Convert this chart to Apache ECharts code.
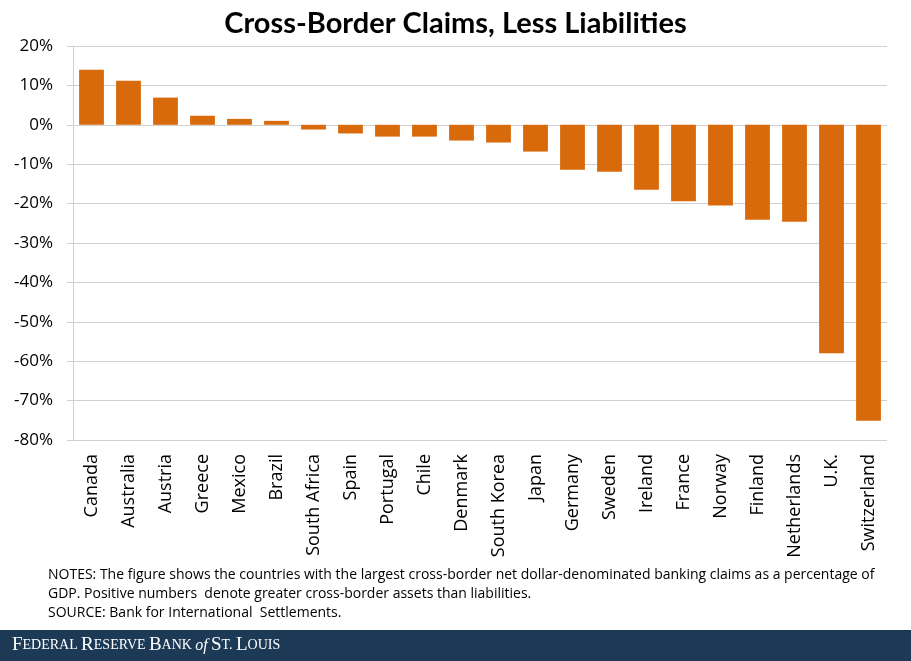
<!DOCTYPE html>
<html>
<head>
<meta charset="utf-8">
<script src="https://cdn.jsdelivr.net/npm/echarts@6/dist/echarts.min.js"></script>
<style>
  html, body { margin: 0; padding: 0; background: #fff; }
  #chart { width: 911px; height: 661px; }
</style>
</head>
<body>
<div id="chart"></div>
<script>
// countries and net claims (% of GDP)
const countries = ['Canada', 'Australia', 'Austria', 'Greece', 'Mexico', 'Brazil', 'South Africa',
  'Spain', 'Portugal', 'Chile', 'Denmark', 'South Korea', 'Japan', 'Germany', 'Sweden',
  'Ireland', 'France', 'Norway', 'Finland', 'Netherlands', 'U.K.', 'Switzerland']
const netClaims = [14.0, 11.2, 6.9, 2.3, 1.5, 1.0, -1.2, -2.2, -3.0, -3.0, -4.0, -4.5, -6.8,
  -11.4, -11.9, -16.5, -19.4, -20.5, -24.1, -24.6, -58.0, -75.1]
const yTicks = { min: -80, max: 20, step: 10 }

const notes = [
  'NOTES: The figure shows the countries with the largest cross-border net dollar-denominated banking claims as a percentage of',
  'GDP. Positive numbers  denote greater cross-border assets than liabilities.',
  'SOURCE: Bank for International  Settlements.'
]

const font = '"Open Sans", "Noto Sans", sans-serif'
let chart = echarts.init(document.getElementById('chart'))

chart.setOption({
  backgroundColor: '#fff',
  animation: false,
  title: {
    text: 'Cross-Border Claims, Less Liabilities',
    left: 'center',
    top: 4,
    textStyle: { fontFamily: 'Lato, sans-serif', fontWeight: 'bold', fontSize: 29, color: '#000' }
  },
  grid: { left: 73, right: 24, top: 46, bottom: 221 },
  xAxis: {
    type: 'category',
    data: countries,
    axisLine: { show: false },
    axisTick: { show: false },
    axisLabel: {
      rotate: 90,
      interval: 0,
      margin: 14,
      fontFamily: font,
      fontSize: 18,
      color: '#000'
    }
  },
  yAxis: {
    type: 'value',
    min: yTicks.min,
    max: yTicks.max,
    interval: yTicks.step,
    axisLine: { show: true, lineStyle: { color: '#d0d0d0' } },
    axisTick: { show: true, length: 6, lineStyle: { color: '#d0d0d0' } },
    splitLine: { lineStyle: { color: '#d0d0d0' } },
    axisLabel: {
      formatter: '{value}%',
      margin: 20,
      fontFamily: font,
      fontSize: 17,
      color: '#000'
    }
  },
  series: [{
    type: 'bar',
    data: netClaims,
    barCategoryGap: '33%',
    itemStyle: { color: '#D96A0B' }
  }],
  graphic: [
    {
      type: 'text',
      left: 48,
      top: 566,
      style: {
        text: notes.join('\n'),
        font: '14px "Open Sans", sans-serif',
        lineHeight: 19,
        fill: '#000'
      }
    },
    {
      type: 'rect',
      left: 0,
      top: 630,
      shape: { width: 911, height: 31 },
      style: { fill: '#1c3a56' }
    },
    {
      type: 'text',
      left: 12,
      top: 636,
      style: {
        rich: {
          big: { fontFamily: '"Liberation Serif", serif', fontSize: 19, fill: '#fff' },
          sm: { fontFamily: '"Liberation Serif", serif', fontSize: 14, fill: '#fff' },
          it: { fontFamily: '"Liberation Serif", serif', fontStyle: 'italic', fontSize: 16, fill: '#fff' }
        },
        text: '{big|F}{sm|EDERAL} {big|R}{sm|ESERVE} {big|B}{sm|ANK} {it|of} {big|S}{sm|T.} {big|L}{sm|OUIS}'
      }
    }
  ]
})
</script>
</body>
</html>
